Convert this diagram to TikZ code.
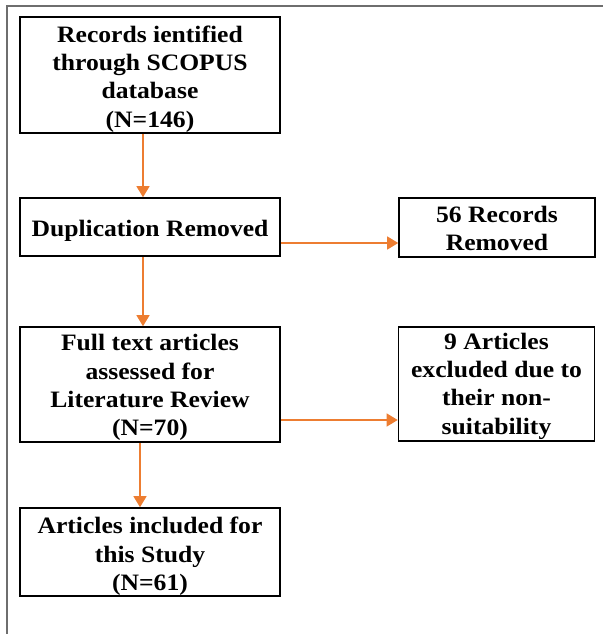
\documentclass[tikz,border=0pt]{standalone}
\usepackage{fontspec}
\setmainfont{Liberation Serif}[FakeStretch=1.09]
\usetikzlibrary{arrows.meta}
\definecolor{arrowc}{HTML}{ED7D31}
\definecolor{framec}{HTML}{6E6E6E}
\begin{document}
\begin{tikzpicture}[x=1pt,y=-1pt,
  box/.style={draw=black,line width=1.6pt,inner sep=0pt,minimum width=260pt},
  rbox/.style={draw=black,line width=1.6pt,inner sep=0pt,minimum width=196pt},
  txt/.style={inner sep=0pt,align=center,font=\fontsize{23.5}{28.3}\selectfont\bfseries},
  flow/.style={draw=arrowc,line width=1.3pt,-{Triangle[length=11pt,width=13pt]},color=arrowc}]
\useasboundingbox (0,0) rectangle (603,634);
\draw[framec,line width=2pt] (6.5,634) -- (6.5,6.5) -- (603,6.5);
% boxes
\node[box,minimum height=116pt] (b1) at (150,75) {};
\node[box,minimum height=58pt] (b2) at (150,227) {};
\node[box,minimum height=115pt] (b3) at (150,384.5) {};
\node[box,minimum height=88pt] (b4) at (150,552) {};
\node[rbox,minimum height=59pt] (r1) at (497,227.5) {};
\node[rbox,minimum height=114pt] (r2) at (496.5,384) {};
% texts
\node[txt] (t1) at (150,79) {Records ientified\\through SCOPUS\\database\\(N=146)};
\node[txt] (t2) at (150,230.5) {Duplication Removed};
\node[txt] (t3) at (150,387.5) {Full text articles\\assessed for\\Literature Review\\(N=70)};
\node[txt] (t4) at (150,556.5) {Articles included for\\this Study\\(N=61)};
\node[txt] (t5) at (497,228.5) {56 Records\\Removed};
\node[txt] (t6) at (496.5,386) {9 Articles\\excluded due to\\their non-\\suitability};
% connectors
\draw[flow] ([xshift=-7pt]b1.south) -- ([xshift=-7pt]b2.north);
\draw[flow] ([xshift=-7pt]b2.south) -- ([xshift=-7pt]b3.north);
\draw[flow] ([xshift=-10pt]b3.south) -- ([xshift=-10pt]b4.north);
\draw[flow] ([yshift=-16pt]b2.east) -- ([yshift=-15.5pt]r1.west);
\draw[flow] ([yshift=-35.5pt]b3.east) -- ([yshift=-36pt]r2.west);
\end{tikzpicture}
\end{document}
